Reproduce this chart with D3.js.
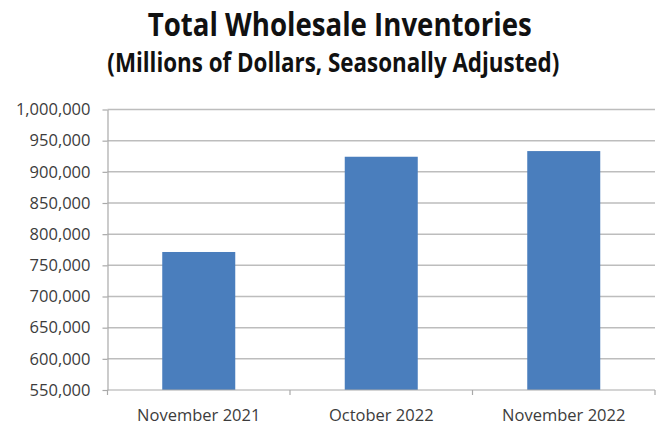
<!DOCTYPE html>
<html>
<head>
<meta charset="utf-8">
<script src="https://cdn.jsdelivr.net/npm/d3@7"></script>
<style>
  html, body { margin: 0; padding: 0; background: #ffffff; }
  svg { display: block; }
</style>
</head>
<body>
<svg id="chart" width="657" height="426"></svg>
<script>
// Wholesale inventories, millions of dollars (seasonally adjusted)
const categories = ["November 2021", "October 2022", "November 2022"];
const inventories = [771400, 924200, 933300];
const yTicks = [550000, 600000, 650000, 700000, 750000, 800000, 850000, 900000, 950000, 1000000];
const titleText = "Total Wholesale Inventories";
const subtitleText = "(Millions of Dollars, Seasonally Adjusted)";

const svg = d3.select("#chart");
const plot = { left: 107.5, right: 655, top: 109.5, bottom: 390 };
const fontFamily = "'Open Sans', 'Noto Sans', sans-serif";
const barColor = "#4a7ebd";
const gridColor = "#bdbdbd";
const axisColor = "#a9a9a9";
const labelColor = "#3c3c3c";

const x = d3.scaleBand()
  .domain(categories)
  .range([plot.left, plot.right])
  .paddingInner(0)
  .paddingOuter(0);

const y = d3.scaleLinear()
  .domain([yTicks[0], yTicks[yTicks.length - 1]])
  .range([plot.bottom, plot.top]);

// Titles
svg.append("text")
  .attr("x", 339.7).attr("y", 36)
  .attr("text-anchor", "middle")
  .attr("font-family", fontFamily)
  .attr("font-weight", 700)
  .attr("font-size", 31.5)
  .attr("fill", "#111")
  .attr("textLength", 384)
  .attr("lengthAdjust", "spacingAndGlyphs")
  .text(titleText);

svg.append("text")
  .attr("x", 333.3).attr("y", 72)
  .attr("text-anchor", "middle")
  .attr("font-family", fontFamily)
  .attr("font-weight", 700)
  .attr("font-size", 26)
  .attr("fill", "#111")
  .attr("textLength", 452)
  .attr("lengthAdjust", "spacingAndGlyphs")
  .text(subtitleText);

// Horizontal gridlines
svg.append("g")
  .selectAll("line")
  .data(yTicks.slice(1))
  .join("line")
  .attr("x1", plot.left).attr("x2", plot.right)
  .attr("y1", d => y(d)).attr("y2", d => y(d))
  .attr("stroke", gridColor)
  .attr("stroke-width", 1.5);

// Bars, 40% of each category band, centred
const barW = x.bandwidth() * 0.4;
svg.append("g")
  .selectAll("rect")
  .data(categories.map((c, i) => ({ c, v: inventories[i] })))
  .join("rect")
  .attr("x", d => x(d.c) + (x.bandwidth() - barW) / 2)
  .attr("y", d => y(d.v))
  .attr("width", barW)
  .attr("height", d => y(yTicks[0]) - y(d.v))
  .attr("fill", barColor);

// Y axis
const yAxis = d3.axisLeft(y)
  .tickValues(yTicks)
  .tickFormat(d3.format(","))
  .tickSize(5)
  .tickSizeOuter(0)
  .tickPadding(12);

const gy = svg.append("g")
  .attr("transform", `translate(${plot.left},0)`)
  .call(yAxis);
gy.select(".domain").attr("stroke", axisColor).attr("stroke-width", 1.2);
gy.selectAll(".tick line").attr("stroke", axisColor).attr("stroke-width", 1.2);
gy.selectAll(".tick text")
  .attr("font-family", fontFamily)
  .attr("font-size", 16.5)
  .attr("fill", labelColor);

// X axis: ticks at category boundaries
const gx = svg.append("g")
  .attr("transform", `translate(0,${plot.bottom})`);
gx.append("line")
  .attr("x1", plot.left).attr("x2", plot.right)
  .attr("stroke", axisColor).attr("stroke-width", 1.2);
const bounds = categories.map(c => x(c)).concat([x.range()[1]]);
gx.selectAll("line.tick")
  .data(bounds)
  .join("line")
  .attr("class", "tick")
  .attr("x1", d => d).attr("x2", d => d)
  .attr("y1", 0).attr("y2", 5)
  .attr("stroke", axisColor).attr("stroke-width", 1.2);
gx.selectAll("text")
  .data(categories)
  .join("text")
  .attr("x", d => x(d) + x.bandwidth() / 2)
  .attr("y", 31)
  .attr("text-anchor", "middle")
  .attr("font-family", fontFamily)
  .attr("font-size", 16.5)
  .attr("fill", labelColor)
  .text(d => d);
</script>
</body>
</html>
